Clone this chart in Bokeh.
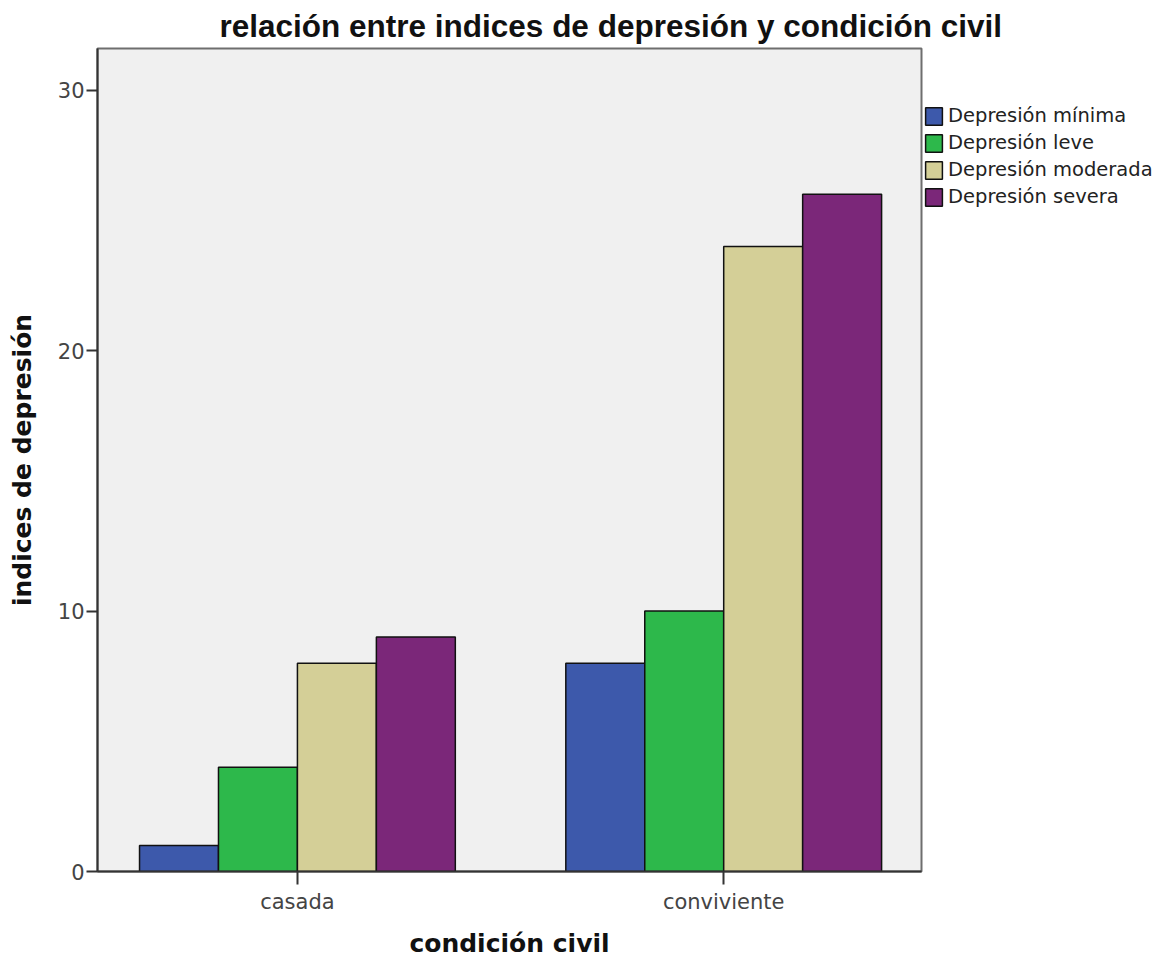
from bokeh.plotting import figure
from bokeh.models import ColumnDataSource, FixedTicker, Legend, LegendItem
from bokeh.transform import dodge
from bokeh.embed import file_html
from bokeh.resources import INLINE

# ---- data ----
categories = ["casada", "conviviente"]
series_names = ["Depresión mínima", "Depresión leve", "Depresión moderada", "Depresión severa"]
minima = [1, 8]
leve = [4, 10]
moderada = [8, 24]
severa = [9, 26]
y_ticks = [0, 10, 20, 30]

colors = ["#3D59AB", "#2DB84B", "#D4CF97", "#7B2779"]

src = ColumnDataSource(dict(
    idx=list(range(len(categories))),
    cat=categories,
    s0=minima, s1=leve, s2=moderada, s3=severa,
))

p = figure(
    frame_width=824, frame_height=823,
    min_border_left=97, min_border_right=241, min_border_top=46, min_border_bottom=91,
    x_range=(-0.469, 1.464), y_range=(0, 31.6),
    output_backend="svg", toolbar_location=None, tools="",
    title="relación entre indices de depresión y condición civil",
)
p.background_fill_color = "#F0F0F0"
p.border_fill_color = "white"
p.outline_line_color = "#6E6E6E"
p.outline_line_width = 2
p.grid.visible = False

p.title.text_font = "Liberation Sans"
p.title.text_font_style = "bold"
p.title.text_font_size = "31.5px"
p.title.text_color = "#111111"
p.title.align = "left"
p.title.offset = 122

bw = 0.1852
items = []
for j, (name, col) in enumerate(zip(series_names, colors)):
    r = p.vbar(x=dodge("idx", (j - 1.5) * bw, range=p.x_range), top="s%d" % j, width=bw,
               source=src, fill_color=col, line_color="#111111", line_width=1.5)
    items.append(LegendItem(label=name, renderers=[r]))

# axes
p.xaxis.ticker = FixedTicker(ticks=list(range(len(categories))))
p.xaxis.major_label_overrides = {i: c for i, c in enumerate(categories)}
p.yaxis.ticker = FixedTicker(ticks=y_ticks)
for ax in (p.xaxis[0], p.yaxis[0]):
    ax.axis_line_color = "#333333"
    ax.axis_line_width = 2
    ax.major_tick_line_color = "#333333"
    ax.major_tick_line_width = 2
    ax.minor_tick_line_color = None
    ax.major_tick_in = 0
    ax.major_label_text_font = "DejaVu Sans"
    ax.major_label_text_font_size = "21px"
    ax.major_label_text_color = "#444444"
    ax.axis_label_text_font = "DejaVu Sans"
    ax.axis_label_text_font_style = "bold"
    ax.axis_label_text_font_size = "25px"
    ax.axis_label_text_color = "#111111"
p.xaxis.major_tick_out = 13
p.xaxis.major_label_standoff = 5
p.xaxis.axis_label = "condición civil"
p.xaxis.axis_label_standoff = 12
p.yaxis.major_tick_out = 11
p.yaxis.major_label_standoff = 2
p.yaxis.axis_label = "indices de depresión"
p.yaxis.axis_label_standoff = 18

legend = Legend(items=items, location=(2, 663), orientation="vertical")
legend.margin = 0
legend.padding = 5
legend.spacing = 4
legend.glyph_width = 21
legend.glyph_height = 22
legend.label_height = 22
legend.label_standoff = 4
legend.label_text_font = "DejaVu Sans"
legend.label_text_font_size = "19.5px"
legend.label_text_color = "#222222"
legend.border_line_color = None
legend.background_fill_alpha = 0
p.add_layout(legend, "right")

open("out.html", "w").write(file_html(p, INLINE))
